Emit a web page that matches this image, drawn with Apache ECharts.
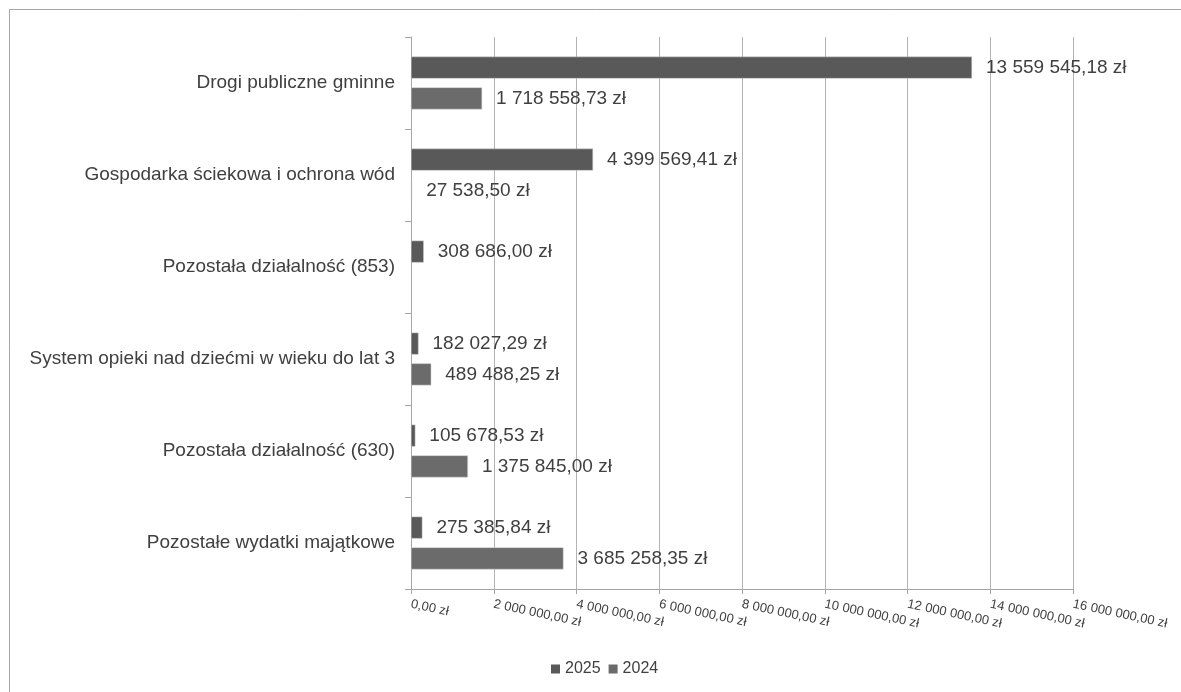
<!DOCTYPE html>
<html>
<head>
<meta charset="utf-8">
<script src="https://cdn.jsdelivr.net/npm/echarts@6/dist/echarts.min.js"></script>
<style>html,body{margin:0;padding:0;background:#fff;}#c{width:1181px;height:692px;}</style>
</head>
<body>
<div id="c"></div>
<script>
const categories = ["Drogi publiczne gminne","Gospodarka ściekowa i ochrona wód","Pozostała działalność (853)","System opieki nad dziećmi w wieku do lat 3","Pozostała działalność (630)","Pozostałe wydatki majątkowe"];
const seriesNames = ["2025","2024"];
const values2025 = [13559545.18, 4399569.41, 308686.00, 182027.29, 105678.53, 275385.84];
const values2024 = [1718558.73, 27538.50, null, 489488.25, 1375845.00, 3685258.35];
const axisMax = 16000000;
const axisInterval = 2000000;

function fmt(v){
  const s = Math.abs(v).toFixed(2);
  let [ip, dp] = s.split('.');
  ip = ip.replace(/\B(?=(\d{3})+(?!\d))/g, ' ');
  return ip + ',' + dp + ' zł';
}
const FONT = 'Liberation Sans, Arial, sans-serif';
const chart = echarts.init(document.getElementById('c'), null, {renderer:'canvas'});
const labelCfg = {show:true, position:'right', distance:14, color:'#404040', fontSize:19, fontFamily:FONT, formatter:p=>fmt(p.value)};
chart.setOption({
  animation:false,
  backgroundColor:'#fff',
  textStyle:{fontFamily:FONT},
  graphic:[{type:'rect', silent:true, shape:{x:9.5,y:9.5,width:2000,height:2000}, style:{fill:'none', stroke:'#a6a6a6', lineWidth:1}}],
  grid:{left:411, right:108, top:37, bottom:103, containLabel:false},
  legend:{data:seriesNames, left:546, top:656, icon:'rect', itemWidth:9, itemHeight:9, itemGap:8,
    itemStyle:{borderWidth:0},
    textStyle:{color:'#404040', fontSize:16, fontFamily:FONT}},
  xAxis:{type:'value', min:0, max:axisMax, interval:axisInterval,
    axisLine:{show:true, lineStyle:{color:'#a6a6a6'}},
    axisTick:{show:true, length:5, lineStyle:{color:'#a6a6a6'}},
    splitLine:{show:true, lineStyle:{color:'#b3b3b3'}},
    axisLabel:{rotate:-12, margin:15, color:'#404040', fontSize:13, fontFamily:FONT, formatter:v=>fmt(v)}},
  yAxis:{type:'category', data:categories, inverse:true,
    axisLine:{show:true, lineStyle:{color:'#a6a6a6'}},
    axisTick:{show:true, length:6, lineStyle:{color:'#a6a6a6'}},
    axisLabel:{margin:16, color:'#404040', fontSize:19, fontFamily:FONT}},
  series:[
    {name:seriesNames[0], type:'bar', data:values2025, barWidth:22, barGap:'40%',
     itemStyle:{color:'#595959', borderColor:'#d0d0d0', borderWidth:0.5}, label:labelCfg},
    {name:seriesNames[1], type:'bar', data:values2024, barWidth:22, barGap:'40%',
     itemStyle:{color:'#6b6b6b', borderColor:'#d0d0d0', borderWidth:0.5}, label:labelCfg}
  ]
});
</script>
</body>
</html>
